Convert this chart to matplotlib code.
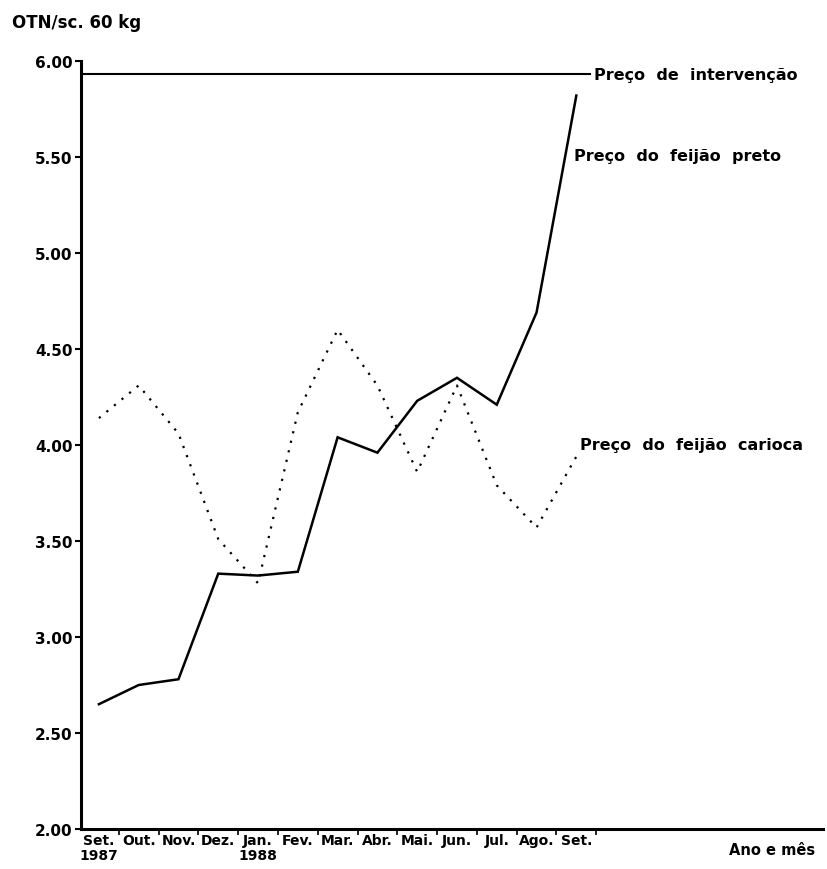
import matplotlib
matplotlib.use('Agg')
import matplotlib.pyplot as plt

# Monthly prices, OTN per 60 kg bag, Sep 1987 - Sep 1988
months = ['Set.\n1987', 'Out.', 'Nov.', 'Dez.', 'Jan.\n1988', 'Fev.', 'Mar.',
          'Abr.', 'Mai.', 'Jun.', 'Jul.', 'Ago.', 'Set.']
preto = [2.65, 2.75, 2.78, 3.33, 3.32, 3.34, 4.04, 3.96, 4.23, 4.35, 4.21, 4.69, 5.82]
carioca = [4.14, 4.31, 4.06, 3.51, 3.28, 4.17, 4.60, 4.31, 3.86, 4.31, 3.79, 3.57, 3.94]
intervencao = 5.93
yticks = [2.00, 2.50, 3.00, 3.50, 4.00, 4.50, 5.00, 5.50, 6.00]

plt.rcParams['font.family'] = 'DejaVu Sans'
plt.rcParams['font.weight'] = 'bold'

fig = plt.figure(figsize=(8.28, 8.7), dpi=100)
ax = fig.add_axes([81 / 828, 1 - 830 / 870, (823 - 81) / 828, (830 - 62) / 870])

x = list(range(len(months)))
ax.plot(x, preto, color='black', linewidth=1.8, solid_joinstyle='miter')
ax.plot(x, carioca, color='black', linewidth=1.6, linestyle=(0, (1, 3.4)))
ax.plot([-0.45, 12.35], [intervencao, intervencao], color='black', linewidth=1.5)

ax.set_xlim(-0.45, 18.2)
ax.set_ylim(2.0, 6.0)

ax.set_yticks(yticks)
ax.set_yticklabels([f'{v:.2f}' for v in yticks], fontsize=11, fontweight='bold')
ax.set_xticks(x)
ax.set_xticklabels(months, fontsize=10, fontweight='bold', linespacing=1.1)
ax.set_xticks([i + 0.5 for i in x], minor=True)
ax.tick_params(axis='x', which='major', length=0, pad=3)
ax.tick_params(axis='x', which='minor', length=4, width=1.2, direction='out')
ax.tick_params(axis='y', length=4, width=1.5, pad=2)

for side in ['top', 'right']:
    ax.spines[side].set_visible(False)
for side in ['left', 'bottom']:
    ax.spines[side].set_linewidth(2.2)

lbl = dict(fontsize=11.5, fontweight='bold', va='center', ha='left')
ax.text(12.45, intervencao, 'Preço  de  intervenção', **lbl)
ax.text(11.95, 5.51, 'Preço  do  feijão  preto', **lbl)
ax.text(12.1, 4.00, 'Preço  do  feijão  carioca', **lbl)
ax.text(18.0, 1.93, 'Ano e mês', fontsize=10.5, fontweight='bold', va='top', ha='right')

fig.text(12 / 828, 1 - 23 / 870, 'OTN/sc. 60 kg', fontsize=12, fontweight='bold',
         va='center', ha='left')

fig.savefig('out.png', dpi=100)
plt.close(fig)
